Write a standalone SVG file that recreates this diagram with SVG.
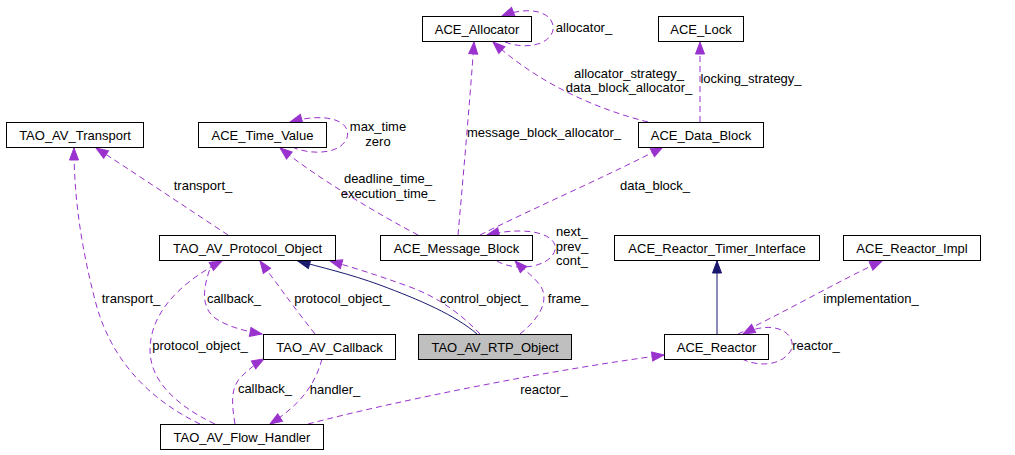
<svg xmlns="http://www.w3.org/2000/svg" width="1015" height="455" viewBox="0 0 1015 455">
<style>
.node rect{fill:#ffffff;stroke:#000000;stroke-width:1}
.node text{font-family:"Liberation Sans",Arial,sans-serif;font-size:13px;fill:#000;text-anchor:middle}
.e{fill:none;stroke:#9a32cd;stroke-width:1;stroke-dasharray:6,4;marker-end:url(#ap)}
.i{fill:none;stroke:#191970;stroke-width:1;marker-end:url(#an)}
.lbl{font-family:"Liberation Sans",Arial,sans-serif;font-size:13px;fill:#000;text-anchor:middle}
</style>
<defs>
<marker id="ap" markerUnits="userSpaceOnUse" markerWidth="14" markerHeight="12" refX="13" refY="5.5" orient="auto" viewBox="0 0 14 11">
<path d="M1,1 L13,5.5 L1,10 z" fill="#9a32cd" stroke="#9a32cd" stroke-width="1"/>
</marker>
<marker id="an" markerUnits="userSpaceOnUse" markerWidth="14" markerHeight="12" refX="13" refY="5.5" orient="auto" viewBox="0 0 14 11">
<path d="M1,1 L13,5.5 L1,10 z" fill="#191970" stroke="#191970" stroke-width="1"/>
</marker>
</defs>
<rect width="1015" height="455" fill="#ffffff"/>
<g id="edges">
<path class="e" d="M228,235 C190,210 130,170 96,148"/>
<path class="e" d="M200,424 C150,400 110,360 95,300 C82,250 74,200 74,148"/>
<path class="e" d="M215,424 C175,405 150,380 150,350 C150,310 185,280 222,261"/>
<path class="e" d="M213,261 C205,280 198,305 215,318 C228,327 245,331 262,334"/>
<path class="e" d="M315,334 C300,315 285,295 278,285 C272,277 265,268 260,261"/>
<path class="e" d="M235,424 C232,405 230,390 240,378 C248,370 255,364 264,359"/>
<path class="e" d="M322,359 C315,385 300,405 270,424"/>
<path class="e" d="M308,424 C400,400 550,370 664,355"/>
<path class="e" d="M742,359 C760,368 785,365 792,348 C795,330 770,320 743,334"/>
<path class="e" d="M738,334 C780,315 840,280 882,261"/>
<path class="i" d="M717,334 L717,261"/>
<path class="i" d="M477,334 C455,315 420,300 380,285 C350,274 320,267 298,261"/>
<path class="e" d="M480,334 C462,315 440,298 410,287 C380,276 355,268 330,261"/>
<path class="e" d="M520,334 C540,318 550,300 540,285 C532,275 522,268 515,261"/>
<path class="e" d="M497,261 C515,272 550,268 555,250 C558,235 530,225 487,235"/>
<path class="e" d="M418,235 C380,215 320,180 280,148"/>
<path class="e" d="M292,147 C310,155 340,155 347,138 C352,120 325,112 290,122"/>
<path class="e" d="M458,235 C462,190 470,100 474,42"/>
<path class="e" d="M648,122 C600,110 540,85 493,42"/>
<path class="e" d="M505,42 C525,50 550,45 553,30 C555,12 530,5 502,16"/>
<path class="e" d="M700,122 L700,42"/>
<path class="e" d="M480,235 C540,205 610,175 663,147"/>
<text class="lbl" x="203" y="190">transport_</text>
<text class="lbl" x="131" y="303">transport_</text>
<text class="lbl" x="200" y="350">protocol_object_</text>
<text class="lbl" x="234" y="303">callback_</text>
<text class="lbl" x="342" y="303">protocol_object_</text>
<text class="lbl" x="265" y="393">callback_</text>
<text class="lbl" x="335" y="394">handler_</text>
<text class="lbl" x="544" y="394">reactor_</text>
<text class="lbl" x="816" y="350">reactor_</text>
<text class="lbl" x="871" y="303">implementation_</text>
<text class="lbl" x="484" y="303">control_object_</text>
<text class="lbl" x="568" y="303">frame_</text>
<text class="lbl" x="572" y="236">next_</text>
<text class="lbl" x="572" y="251">prev_</text>
<text class="lbl" x="572" y="265">cont_</text>
<text class="lbl" x="388" y="183">deadline_time_</text>
<text class="lbl" x="388" y="198">execution_time_</text>
<text class="lbl" x="378" y="131">max_time</text>
<text class="lbl" x="378" y="146">zero</text>
<text class="lbl" x="544" y="137">message_block_allocator_</text>
<text class="lbl" x="629" y="78">allocator_strategy_</text>
<text class="lbl" x="629" y="92">data_block_allocator_</text>
<text class="lbl" x="584" y="32">allocator_</text>
<text class="lbl" x="751" y="83">locking_strategy_</text>
<text class="lbl" x="655" y="190">data_block_</text>
</g>
<g id="TAO_AV_RTP_Object" class="node"><rect x="418.5" y="334.5" width="153" height="25" style="fill:#bfbfbf"/><text x="495" y="352">TAO_AV_RTP_Object</text></g>
<g id="TAO_AV_Protocol_Object" class="node"><rect x="159.5" y="235.5" width="176" height="25"/><text x="247.5" y="253">TAO_AV_Protocol_Object</text></g>
<g id="TAO_AV_Transport" class="node"><rect x="6.5" y="122.5" width="137" height="25"/><text x="75" y="140">TAO_AV_Transport</text></g>
<g id="ACE_Time_Value" class="node"><rect x="198.5" y="122.5" width="128" height="25"/><text x="262.5" y="140">ACE_Time_Value</text></g>
<g id="ACE_Allocator" class="node"><rect x="422.5" y="16.5" width="109" height="25"/><text x="477" y="34">ACE_Allocator</text></g>
<g id="ACE_Lock" class="node"><rect x="658.5" y="16.5" width="85" height="25"/><text x="701" y="34">ACE_Lock</text></g>
<g id="ACE_Data_Block" class="node"><rect x="638.5" y="122.5" width="125" height="25"/><text x="701" y="140">ACE_Data_Block</text></g>
<g id="ACE_Message_Block" class="node"><rect x="380.5" y="235.5" width="152" height="25"/><text x="456.5" y="253">ACE_Message_Block</text></g>
<g id="ACE_Reactor_Timer_Interface" class="node"><rect x="614.5" y="235.5" width="205" height="25"/><text x="717" y="253">ACE_Reactor_Timer_Interface</text></g>
<g id="ACE_Reactor_Impl" class="node"><rect x="843.5" y="235.5" width="137" height="25"/><text x="912" y="253">ACE_Reactor_Impl</text></g>
<g id="TAO_AV_Callback" class="node"><rect x="263.5" y="334.5" width="132" height="25"/><text x="329.5" y="352">TAO_AV_Callback</text></g>
<g id="ACE_Reactor" class="node"><rect x="664.5" y="334.5" width="104" height="25"/><text x="716.5" y="352">ACE_Reactor</text></g>
<g id="TAO_AV_Flow_Handler" class="node"><rect x="160.5" y="424.5" width="163" height="25"/><text x="242" y="442">TAO_AV_Flow_Handler</text></g>
</svg>
